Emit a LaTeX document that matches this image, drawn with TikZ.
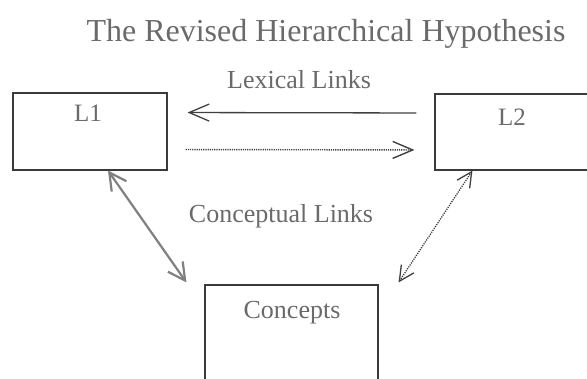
\documentclass[tikz,border=0pt]{standalone}
\usepackage{fontspec}
\setmainfont{Liberation Serif}
\usetikzlibrary{arrows.meta,calc}

\definecolor{inkgray}{HTML}{6A6A6A}
\definecolor{boxline}{HTML}{3A3A3A}
\definecolor{linkdark}{HTML}{404040}
\definecolor{linklight}{HTML}{808080}

\begin{document}
\begin{tikzpicture}[x=1pt,y=-1pt,
  box/.style={draw=boxline,line width=1.1pt,inner sep=0pt},
  lbl/.style={text=inkgray,inner sep=0pt,anchor=base,font=\fontsize{26}{30}\selectfont},
  titletext/.style={text=inkgray,inner sep=0pt,anchor=base,font=\fontsize{32}{38}\selectfont},
  solidlink/.style={draw=linkdark,line width=1.3pt,
    -{Straight Barb[length=20pt,width=17pt]}},
  dottedlink/.style={draw=linkdark,line width=1.4pt,dash pattern=on 1.2pt off 1pt,
    -{Straight Barb[length=20pt,width=17pt,sep=0pt]}},
  conceptsolid/.style={draw=linklight,line width=2.2pt,
    {Straight Barb[length=17pt,width=18pt]}-{Straight Barb[length=17pt,width=18pt]}},
  conceptdotted/.style={draw=linkdark,line width=1.3pt,dash pattern=on 1.2pt off 1.1pt,
    {Straight Barb[length=15pt,width=15pt]}-{Straight Barb[length=15pt,width=15pt]}}]

\useasboundingbox (0,0) rectangle (587,378);
\clip (0,0) rectangle (587,378);

% headline
\node[titletext] (title) at (326,41) {The Revised Hierarchical Hypothesis};

% the three stores
\node[box,minimum width=154pt,minimum height=77pt] (L1box) at (90,131.5) {};
\node[box,minimum width=155pt,minimum height=76pt] (L2box) at (512.5,132) {};
\node[box,minimum width=173pt,minimum height=130pt] (Cbox) at (291.5,350) {};

\node[lbl,font=\fontsize{25}{30}\selectfont] (L1) at (88,121) {L1};
\node[lbl,font=\fontsize{25}{30}\selectfont] (L2) at (512,125) {L2};
\node[lbl] (concepts) at (292,318) {Concepts};

% link labels
\node[lbl] (lexical) at (299,88) {Lexical Links};
\node[lbl] (conceptual) at (281,222) {Conceptual Links};

% lexical links between L1 and L2
\draw[solidlink,shorten <=18pt,shorten >=20pt]
  ([yshift=19pt]L2box.west) -- ([yshift=19pt]L1box.east);
\draw[dottedlink,shorten <=18pt,shorten >=20pt]
  ([yshift=-18pt]L1box.east) -- ([yshift=-18pt]L2box.west);

% conceptual links down to the concept store
\coordinate (l1low) at ([xshift=18pt]L1box.south);
\coordinate (cleft) at ([xshift=-18pt,yshift=2pt]Cbox.north west);
\coordinate (l2low) at ([xshift=38pt]L2box.south west);
\coordinate (cright) at ([xshift=20pt,yshift=2pt]Cbox.north east);
\draw[conceptsolid] (l1low) -- (cleft);
\draw[conceptdotted] (l2low) -- (cright);

\end{tikzpicture}
\end{document}
